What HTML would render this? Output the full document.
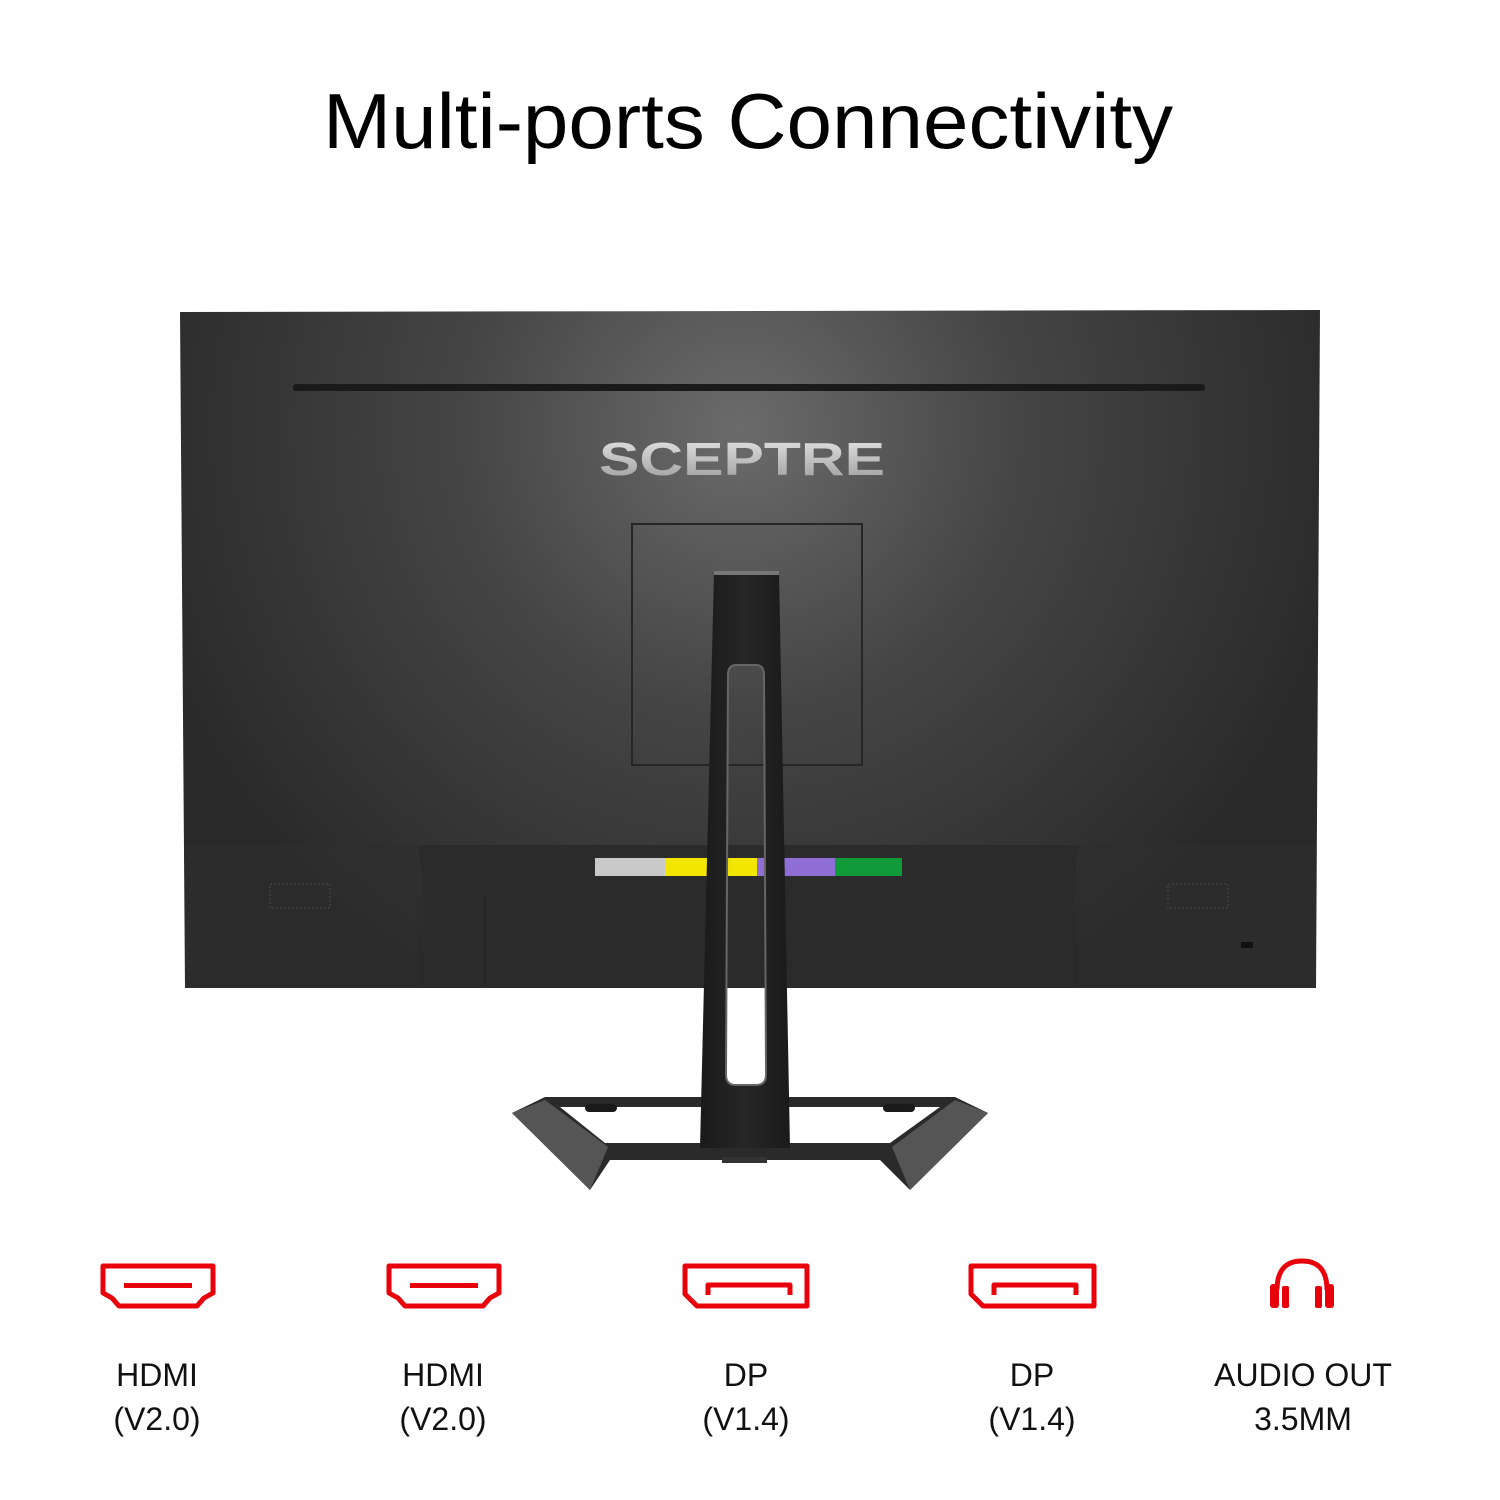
<!DOCTYPE html>
<html><head><meta charset="utf-8"><style>
html,body{margin:0;padding:0;background:#fff;}
svg{display:block;}
</style></head><body>
<svg width="1500" height="1500" viewBox="0 0 1500 1500" xmlns="http://www.w3.org/2000/svg" font-family="Liberation Sans, sans-serif">
<defs>
<radialGradient id="bg" cx="740" cy="430" r="620" gradientUnits="userSpaceOnUse">
<stop offset="0" stop-color="#6b6b6b"/><stop offset="0.45" stop-color="#454545"/><stop offset="1" stop-color="#2a2a2a"/>
</radialGradient>
<linearGradient id="logo" x1="0" y1="0" x2="0" y2="1"><stop offset="0" stop-color="#e8e8e8"/><stop offset="1" stop-color="#9a9a9a"/></linearGradient>
<linearGradient id="neck" x1="0" y1="0" x2="1" y2="0"><stop offset="0" stop-color="#1a1a1a"/><stop offset="0.5" stop-color="#262626"/><stop offset="1" stop-color="#1a1a1a"/></linearGradient>
</defs>
<text x="748" y="148" font-size="78" text-anchor="middle" fill="#000" textLength="850" lengthAdjust="spacingAndGlyphs">Multi-ports Connectivity</text>

<!-- monitor -->
<path d="M180,312 L1320,310 L1316,988 L185,988 Z" fill="url(#bg)"/>
<path d="M185,845 L418,845 L418,988 L185,988 Z" fill="#2e2e2e" opacity="0.6"/>
<path d="M1078,845 L1316,845 L1316,988 L1078,988 Z" fill="#2e2e2e" opacity="0.6"/>
<path d="M418,845 L1078,845 Q1070,920 1075,988 L423,988 Q428,920 418,845 Z" fill="#2b2b2b"/>
<line x1="485" y1="895" x2="485" y2="985" stroke="#252525" stroke-width="2"/>
<rect x="293" y="384" width="912" height="7" rx="3" fill="#1a1a1a"/>
<text x="742" y="475" font-size="46" font-weight="bold" text-anchor="middle" fill="url(#logo)" textLength="286" lengthAdjust="spacingAndGlyphs">SCEPTRE</text>
<rect x="632" y="524" width="230" height="241" fill="none" stroke="#262626" stroke-width="2"/>
<!-- speakers -->
<rect x="270" y="884" width="60" height="24" fill="none" stroke="#3a3a3a" stroke-dasharray="2 2" stroke-width="2"/>
<rect x="1168" y="884" width="60" height="24" fill="none" stroke="#3a3a3a" stroke-dasharray="2 2" stroke-width="2"/>
<rect x="1241" y="942" width="12" height="6" fill="#111"/>
<!-- port strip -->
<rect x="595" y="858" width="70" height="18" fill="#c9c9c9"/>
<rect x="665" y="858" width="92" height="18" fill="#f2e600"/>
<rect x="757" y="858" width="78" height="18" fill="#8f6fd6"/>
<rect x="835" y="858" width="67" height="18" fill="#109a3a"/>
<!-- base -->
<path d="M545,1097 L955,1097 L988,1113 L910,1190 L880,1160 L610,1160 L590,1190 L512,1113 Z M560,1107 L940,1107 L890,1143 L605,1143 Z" fill="#2a2a2a" fill-rule="evenodd"/>
<path d="M512,1113 L545,1100 L608,1147 L590,1190 Z" fill="#555"/>
<path d="M988,1113 L955,1100 L892,1147 L910,1190 Z" fill="#555"/>
<rect x="585" y="1104" width="32" height="8" rx="4" fill="#1a1a1a"/>
<rect x="883" y="1104" width="32" height="8" rx="4" fill="#1a1a1a"/>
<rect x="722" y="1157" width="45" height="6" fill="#333"/>
<!-- neck -->
<path d="M714,571 L779,571 L790,1148 L700,1148 Z M736,665 L756,665 Q764,665 764,675 L766,1075 Q766,1085 756,1085 L736,1085 Q726,1085 726,1075 L728,675 Q728,665 736,665 Z" fill="url(#neck)" fill-rule="evenodd"/>
<rect x="714" y="571" width="65" height="4" fill="#777"/>
<path d="M728,988 L766,988 L766,1075 Q766,1085 756,1085 L736,1085 Q726,1085 726,1075 Z" fill="#fff"/>
<path d="M728,675 Q728,665 736,665 L756,665 Q764,665 764,675 L766,1075 Q766,1085 756,1085 L736,1085 Q726,1085 726,1075 Z" fill="none" stroke="#666" stroke-width="2"/>

<!-- icons -->
<g fill="none" stroke="#e8000b" stroke-width="5" stroke-linejoin="round">
<path d="M103,1266 H213 V1293 L204,1298 L197,1306 H119 L112,1298 L103,1293 Z"/>
<path d="M389,1266 H499 V1293 L490,1298 L483,1306 H405 L398,1298 L389,1293 Z"/>
<path d="M685,1266 H807 V1306 H697 L685,1294 Z"/>
<path d="M971,1266 H1094 V1306 H983 L971,1294 Z"/>
<path d="M708,1295 V1285 H790 V1295"/>
<path d="M994,1295 V1285 H1076 V1295"/>
<path d="M1277,1290 Q1277,1261 1302,1261 Q1327,1261 1327,1290"/>
</g>
<g fill="#e8000b">
<rect x="124" y="1283" width="68" height="5"/>
<rect x="410" y="1283" width="68" height="5"/>
<rect x="1270" y="1284" width="9" height="24" rx="3"/>
<rect x="1325" y="1284" width="9" height="24" rx="3"/>
<rect x="1282" y="1286" width="7" height="22" rx="2"/>
<rect x="1315" y="1286" width="7" height="22" rx="2"/>
</g>
<g font-size="32" text-anchor="middle" fill="#111">
<text x="157" y="1386">HDMI</text><text x="157" y="1430">(V2.0)</text>
<text x="443" y="1386">HDMI</text><text x="443" y="1430">(V2.0)</text>
<text x="746" y="1386">DP</text><text x="746" y="1430">(V1.4)</text>
<text x="1032" y="1386">DP</text><text x="1032" y="1430">(V1.4)</text>
<text x="1303" y="1386">AUDIO OUT</text><text x="1303" y="1430">3.5MM</text>
</g>
</svg>
</body></html>
